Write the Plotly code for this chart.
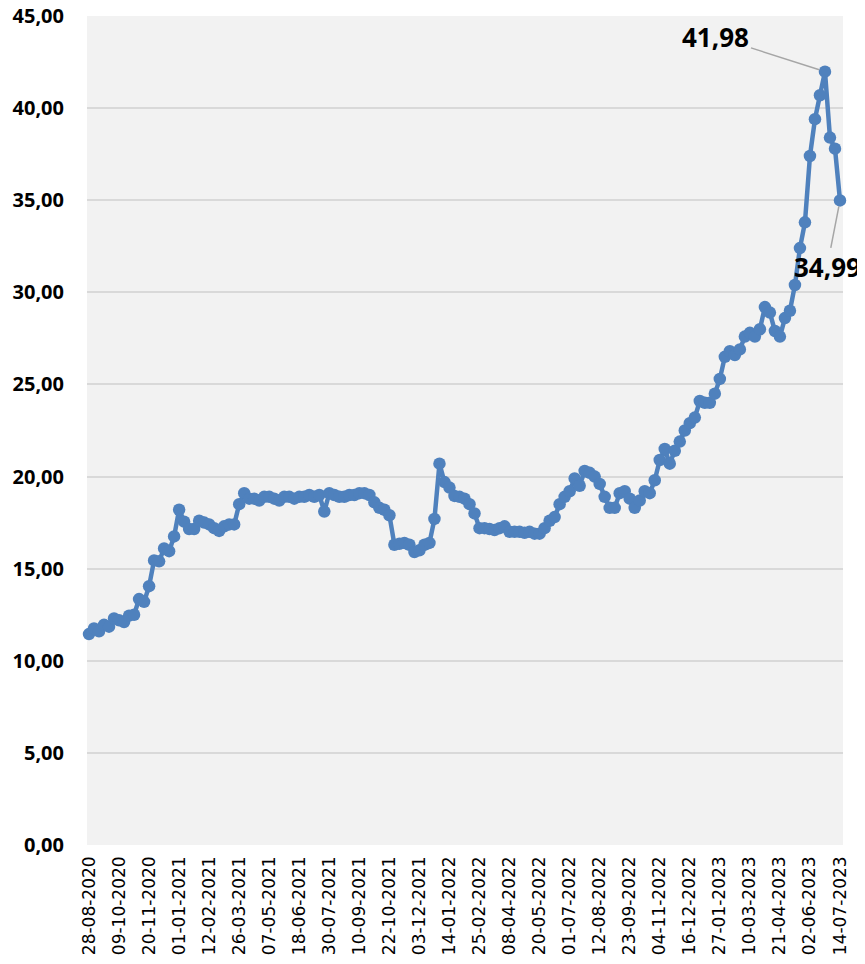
import pandas as pd
import plotly.graph_objects as go

# weekly observations, 28-08-2020 .. 14-07-2023
start_date = "2020-08-28"
values = [
    11.45, 11.75, 11.6, 11.95, 11.85, 12.3, 12.2, 12.1, 12.45, 12.5,
    13.35, 13.2, 14.05, 15.45, 15.4, 16.1, 15.95, 16.75, 18.2, 17.55,
    17.15, 17.15, 17.6, 17.5, 17.4, 17.2, 17.05, 17.3, 17.4, 17.4,
    18.5, 19.1, 18.8, 18.8, 18.7, 18.9, 18.9, 18.8, 18.7, 18.9,
    18.9, 18.8, 18.9, 18.9, 19.0, 18.9, 19.0, 18.1, 19.1, 19.0,
    18.9, 18.9, 19.0, 19.0, 19.1, 19.1, 19.0, 18.6, 18.3, 18.2,
    17.9, 16.3, 16.35, 16.4, 16.3, 15.9, 16.0, 16.3, 16.4, 17.7,
    20.7, 19.7, 19.4, 18.95, 18.9, 18.8, 18.5, 18.0, 17.2, 17.2,
    17.15, 17.1, 17.2, 17.3, 17.0, 17.0, 17.0, 16.95, 17.0, 16.9,
    16.9, 17.2, 17.6, 17.8, 18.5, 18.9, 19.2, 19.9, 19.5, 20.3,
    20.2, 20.0, 19.6, 18.9, 18.3, 18.3, 19.1, 19.2, 18.8, 18.3,
    18.7, 19.2, 19.1, 19.8, 20.9, 21.5, 20.7, 21.4, 21.9, 22.5,
    22.9, 23.2, 24.1, 24.0, 24.0, 24.5, 25.3, 26.5, 26.8, 26.6,
    26.9, 27.6, 27.8, 27.6, 28.0, 29.2, 28.9, 27.9, 27.6, 28.6,
    29.0, 30.4, 32.4, 33.8, 37.4, 39.4, 40.7, 41.98, 38.4, 37.8,
    34.99,
]
dates = pd.date_range(start_date, periods=len(values), freq="7D").strftime("%d-%m-%Y").tolist()
y_ticks = [0, 5, 10, 15, 20, 25, 30, 35, 40, 45]

blue = "#4F81BD"

fig = go.Figure()
fig.add_trace(go.Scatter(
    x=dates, y=values, mode="lines+markers",
    line=dict(color=blue, width=4.5),
    marker=dict(color=blue, size=12.5),
    cliponaxis=False,
))

# labels for max and last value
peak = values.index(max(values))
for idx, ax, ay in [(peak, -109, -35), (len(values) - 1, -13, 67)]:
    fig.add_annotation(
        x=dates[idx], y=values[idx], text=f"{values[idx]:.2f}".replace(".", ","),
        showarrow=True, arrowhead=0, arrowwidth=1.5, arrowcolor="#A6A6A6",
        ax=ax, ay=ay, standoff=6,
        font=dict(family="Open Sans", size=26, color="black", weight="bold"),
    )

# page body adds an 8px offset, margins compensate for it
fig.update_layout(
    width=865, height=964,
    margin=dict(l=79, r=30, t=8, b=127),
    paper_bgcolor="white", plot_bgcolor="#F2F2F2",
    showlegend=False,
    xaxis=dict(
        type="category", range=[-0.4, len(values) - 0.4],
        tickmode="array", tickvals=dates[::6], ticktext=dates[::6],
        tickangle=-90, showgrid=False, ticks="", automargin=False,
        ticklabelstandoff=7,
        tickfont=dict(family="DejaVu Sans", size=17, color="black"),
    ),
    yaxis=dict(
        range=[0, 45], tickvals=y_ticks,
        ticktext=[f"{t:.2f}".replace(".", ",") for t in y_ticks],
        gridcolor="#D9D9D9", gridwidth=2, zeroline=False, ticks="",
        automargin=False, ticklabelstandoff=22, ticklabeloverflow="allow",
        tickfont=dict(family="Open Sans", size=20, color="black", weight="bold"),
    ),
)

fig.write_html("out.html")
